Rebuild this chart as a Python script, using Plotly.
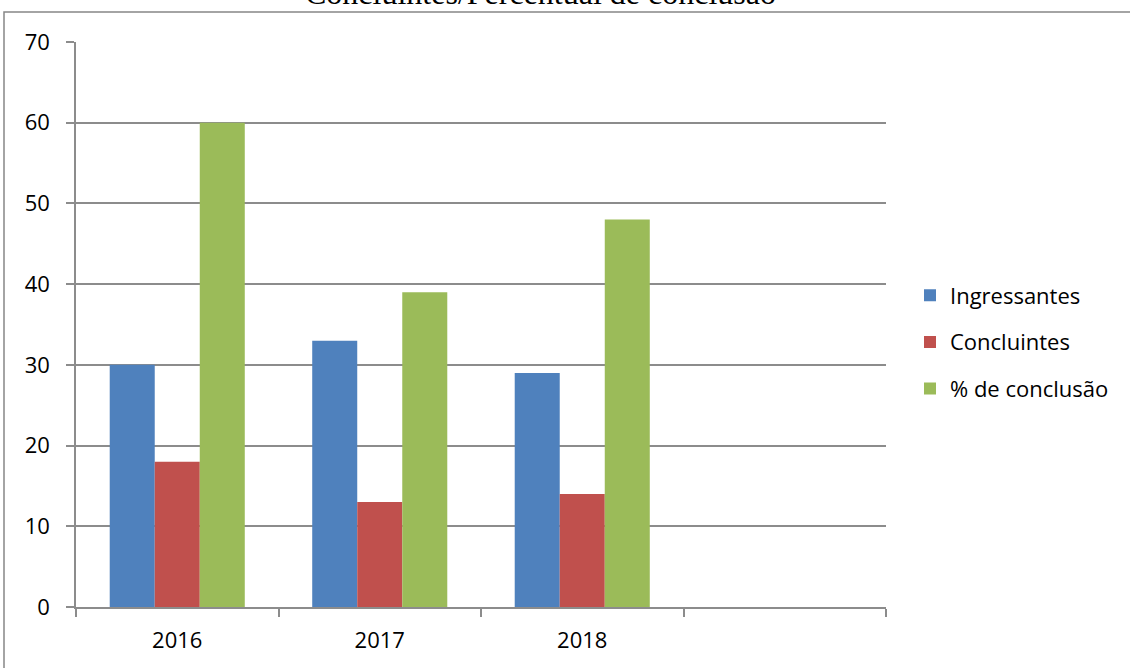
import plotly.graph_objects as go

categories = ["2016", "2017", "2018", " "]
ingressantes = [30, 33, 29]
concluintes = [18, 13, 14]
pct_conclusao = [60, 39, 48]
series_names = ["Ingressantes", "Concluintes", "% de conclusão"]
series_colors = ["#4F81BD", "#C0504D", "#9BBB59"]
title_text = "Concluintes/Percentual de conclusão"

W, H = 1130, 668
L, R, T, B = 76, 244, 42, 61
pw, ph = W - L - R, H - T - B

fig = go.Figure()
for i, (name, vals, col) in enumerate(zip(series_names, [ingressantes, concluintes, pct_conclusao], series_colors)):
    fig.add_trace(go.Bar(
        x=categories[:len(vals)], y=vals, name=name,
        marker=dict(color=col, line=dict(width=0)),
        legendgroup=str(i),
    ))

grid_col = "#8c8c8c"
font_family = "Open Sans"
fs = 22

fig.update_layout(
    width=W, height=H,
    margin=dict(l=L, r=R, t=T, b=B),
    paper_bgcolor="white", plot_bgcolor="white",
    barmode="group", bargap=0.333, bargroupgap=0,
    font=dict(family=font_family, size=fs, color="black"),
    showlegend=True,
    legend=dict(
        x=(910 - L) / pw, xanchor="left",
        y=(H - B - 342) / ph, yanchor="middle",
        font=dict(family=font_family, size=fs, color="black"),
        tracegroupgap=15, traceorder="grouped",
        bgcolor="rgba(0,0,0,0)",
    ),
    xaxis=dict(
        type="category", categoryorder="array", categoryarray=categories,
        range=[-0.5, 3.5], tickson="boundaries",
        ticks="outside", ticklen=8, tickcolor=grid_col, tickwidth=1.5,
        showline=True, linecolor=grid_col, linewidth=1.5,
        showgrid=False, ticklabelstandoff=13,
        tickfont=dict(family=font_family, size=fs),
    ),
    yaxis=dict(
        range=[0, 70], dtick=10, tick0=0,
        ticks="outside", ticklen=8, tickcolor=grid_col, tickwidth=1.5,
        showline=True, linecolor=grid_col, linewidth=1.5,
        showgrid=True, gridcolor=grid_col, gridwidth=1.5,
        zeroline=False, ticklabelstandoff=12,
        tickfont=dict(family=font_family, size=fs),
    ),
    shapes=[dict(
        type="rect", xref="paper", yref="paper",
        x0=(4 - L) / pw, x1=(1140 - L) / pw,
        y0=(H - B - 690) / ph, y1=(H - B - 12) / ph,
        line=dict(color="#868686", width=1.5), layer="below",
    )],
    annotations=[dict(
        text=title_text, xref="paper", yref="paper",
        x=(540 - L) / pw, xanchor="center",
        y=(H - B + 7) / ph, yanchor="middle",
        showarrow=False,
        font=dict(family="Liberation Serif", size=32, color="black"),
    )],
)

fig.write_html(
    "out.html",
    config={"displayModeBar": False},
    post_script="document.body.style.margin='0';document.body.style.overflow='hidden';",
)
